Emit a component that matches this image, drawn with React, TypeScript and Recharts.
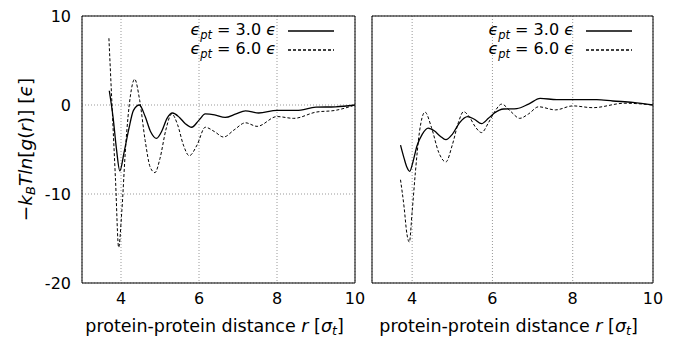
import React from "react";
import {
  LineChart,
  Line,
  XAxis,
  YAxis,
  CartesianGrid,
  ReferenceArea,
} from "recharts";

const xTicks = [4, 6, 8, 10];
const yTicks = [-20, -10, 0, 10];
const epsLabels = ["3.0", "6.0"];

// left panel, eps_pt = 3.0
const leftR3 = [3.7, 3.8, 3.88, 3.97, 4.08, 4.2, 4.32, 4.47, 4.62, 4.76, 4.91, 5.05, 5.18, 5.32, 5.5, 5.65, 5.81, 6.0, 6.16, 6.4, 6.67, 6.95, 7.19, 7.53, 8.0, 8.5, 9.0, 9.5, 10.0];
const leftV3 = [1.6, -1.5, -4.8, -7.4, -5.3, -2.7, -0.6, 0.0, -1.3, -3.0, -3.75, -2.9, -1.5, -0.9, -1.4, -2.1, -2.5, -1.7, -1.0, -1.1, -1.4, -1.0, -0.65, -0.9, -0.6, -0.6, -0.25, -0.2, 0.0];
// left panel, eps_pt = 6.0
const leftR6 = [3.69, 3.78, 3.86, 3.94, 4.02, 4.12, 4.24, 4.35, 4.48, 4.62, 4.75, 4.87, 5.0, 5.15, 5.3, 5.45, 5.6, 5.75, 5.95, 6.16, 6.4, 6.63, 6.9, 7.19, 7.49, 8.0, 8.43, 9.0, 9.5, 10.0];
const leftV6 = [7.5, -1.0, -8.5, -16.0, -12.0, -4.6, 1.0, 2.9, 0.5, -4.0, -7.0, -7.6, -6.0, -2.8, -1.0, -2.2, -4.5, -5.7, -4.5, -2.5, -3.0, -3.6, -2.8, -2.0, -2.4, -1.3, -1.5, -0.8, -0.6, 0.0];

// right panel, eps_pt = 3.0
const rightR3 = [3.71, 3.8, 3.87, 3.94, 4.02, 4.12, 4.25, 4.4, 4.55, 4.7, 4.84, 5.0, 5.18, 5.38, 5.55, 5.73, 5.9, 6.05, 6.28, 6.61, 6.9, 7.19, 7.6, 8.0, 8.6, 9.0, 9.5, 10.0];
const rightV3 = [-4.5, -6.0, -7.0, -7.45, -6.4, -4.6, -3.3, -2.6, -2.9, -3.5, -3.9, -3.3, -2.0, -1.3, -1.6, -2.1, -1.5, -0.9, -0.45, -0.4, 0.1, 0.75, 0.6, 0.6, 0.6, 0.45, 0.3, 0.0];
// right panel, eps_pt = 6.0
const rightR6 = [3.71, 3.8, 3.87, 3.93, 4.0, 4.08, 4.18, 4.32, 4.48, 4.66, 4.84, 5.0, 5.15, 5.28, 5.42, 5.58, 5.73, 5.9, 6.05, 6.23, 6.45, 6.68, 6.9, 7.15, 7.57, 8.0, 8.5, 9.3, 10.0];
const rightV6 = [-8.4, -11.5, -14.5, -15.4, -12.0, -7.6, -3.1, -0.8, -2.5, -5.3, -6.4, -4.5, -2.0, -0.75, -1.3, -2.5, -3.1, -2.0, -0.8, 0.1, -0.7, -1.5, -1.0, -0.2, -0.55, -0.1, -0.3, 0.2, 0.0];

const toRows = (r: number[], v: number[]) => r.map((x, i) => ({ r: x, v: v[i] }));

const FONT = "DejaVu Sans";
const tickStyle = { fill: "#000", fontSize: 16, fontFamily: FONT };

function XTitle({ viewBox }: any) {
  const cx = viewBox.x + viewBox.width / 2 - 4;
  const y = viewBox.y + 49;
  return (
    <text x={cx} y={y} textAnchor="middle" fontFamily={FONT} fontSize={17.5} fill="#000">
      <tspan>protein-protein distance </tspan>
      <tspan fontStyle="italic">r</tspan>
      <tspan> [</tspan>
      <tspan fontStyle="italic">σ</tspan>
      <tspan fontStyle="italic" fontSize={12.5} dy={3}>t</tspan>
      <tspan dy={-3}>]</tspan>
    </text>
  );
}

function YTitle({ viewBox }: any) {
  const cx = 32;
  const cy = viewBox.y + viewBox.height / 2;
  return (
    <text
      x={cx}
      y={cy}
      transform={`rotate(-90 ${cx} ${cy})`}
      textAnchor="middle"
      fontFamily={FONT}
      fontSize={18.5}
      fill="#000"
    >
      <tspan>−</tspan>
      <tspan fontStyle="italic">k</tspan>
      <tspan fontStyle="italic" fontSize={13} dy={3}>B</tspan>
      <tspan fontStyle="italic" dy={-3}>Tln</tspan>
      <tspan>[</tspan>
      <tspan fontStyle="italic">g</tspan>
      <tspan>(</tspan>
      <tspan fontStyle="italic">r</tspan>
      <tspan>)] [</tspan>
      <tspan fontStyle="italic">ϵ</tspan>
      <tspan>]</tspan>
    </text>
  );
}

function LegendBox({ right }: { right: number }) {
  return (
    <div
      style={{
        position: "absolute",
        top: 21,
        right,
        fontFamily: FONT,
        fontSize: 16,
        lineHeight: "17px",
        color: "#000",
      }}
    >
      {epsLabels.map((lab, i) => (
        <div key={lab} style={{ display: "flex", alignItems: "center", justifyContent: "flex-end" }}>
          <span style={{ whiteSpace: "nowrap" }}>
            <i>ϵ</i>
            <i style={{ fontSize: 11.5, position: "relative", top: 4 }}>pt</i> = {lab} <i>ϵ</i>
          </span>
          <svg width={58} height={4} style={{ display: "block" }}>
            <line
              x1={12}
              x2={58}
              y1={2}
              y2={2}
              stroke="#000"
              strokeWidth={1.3}
              strokeDasharray={i ? "3 2" : undefined}
            />
          </svg>
        </div>
      ))}
    </div>
  );
}

function Panel({
  rows3,
  rows6,
  width,
  margin,
  showY,
}: {
  rows3: { r: number; v: number }[];
  rows6: { r: number; v: number }[];
  width: number;
  margin: { top: number; right: number; left: number; bottom: number };
  showY: boolean;
}) {
  return (
    <LineChart width={width} height={337} margin={margin}>
      <CartesianGrid stroke="#999" strokeDasharray="1 2" />
      <XAxis
        type="number"
        dataKey="r"
        domain={[3, 10]}
        ticks={xTicks}
        allowDataOverflow
        axisLine={false}
        tickLine={false}
        tickSize={0}
        tickMargin={10}
        height={54}
        tick={tickStyle}
        label={{ content: (p: any) => <XTitle viewBox={p.viewBox} /> }}
      />
      <YAxis
        type="number"
        domain={[-20, 10]}
        ticks={yTicks}
        allowDataOverflow
        axisLine={false}
        tickLine={false}
        tickSize={0}
        tickMargin={11}
        width={showY ? 82 : 0}
        tick={showY ? tickStyle : false}
        label={showY ? { content: (p: any) => <YTitle viewBox={p.viewBox} /> } : undefined}
      />
      <Line
        data={rows3}
        dataKey="v"
        type="monotone"
        stroke="#000"
        strokeWidth={1.3}
        dot={false}
        isAnimationActive={false}
      />
      <Line
        data={rows6}
        dataKey="v"
        type="monotone"
        stroke="#000"
        strokeWidth={1}
        strokeDasharray="3 2"
        dot={false}
        isAnimationActive={false}
      />
      <ReferenceArea x1={3} x2={10} y1={-20} y2={10} fill="none" stroke="#000" strokeWidth={1} ifOverflow="visible" />
    </LineChart>
  );
}

export default function App() {
  return (
    <div style={{ position: "absolute", left: 0, top: 0, width: 682, height: 337, background: "#fff" }}>
      <div style={{ position: "absolute", left: 0, top: 0 }}>
        <Panel
          rows3={toRows(leftR3, leftV3)}
          rows6={toRows(leftR6, leftV6)}
          width={372}
          margin={{ top: 16, right: 17, left: 0, bottom: 0 }}
          showY
        />
        <LegendBox right={38} />
      </div>
      <div style={{ position: "absolute", left: 362, top: 0 }}>
        <Panel
          rows3={toRows(rightR3, rightV3)}
          rows6={toRows(rightR6, rightV6)}
          width={320}
          margin={{ top: 16, right: 29, left: 10, bottom: 0 }}
          showY={false}
        />
        <LegendBox right={50} />
      </div>
    </div>
  );
}
